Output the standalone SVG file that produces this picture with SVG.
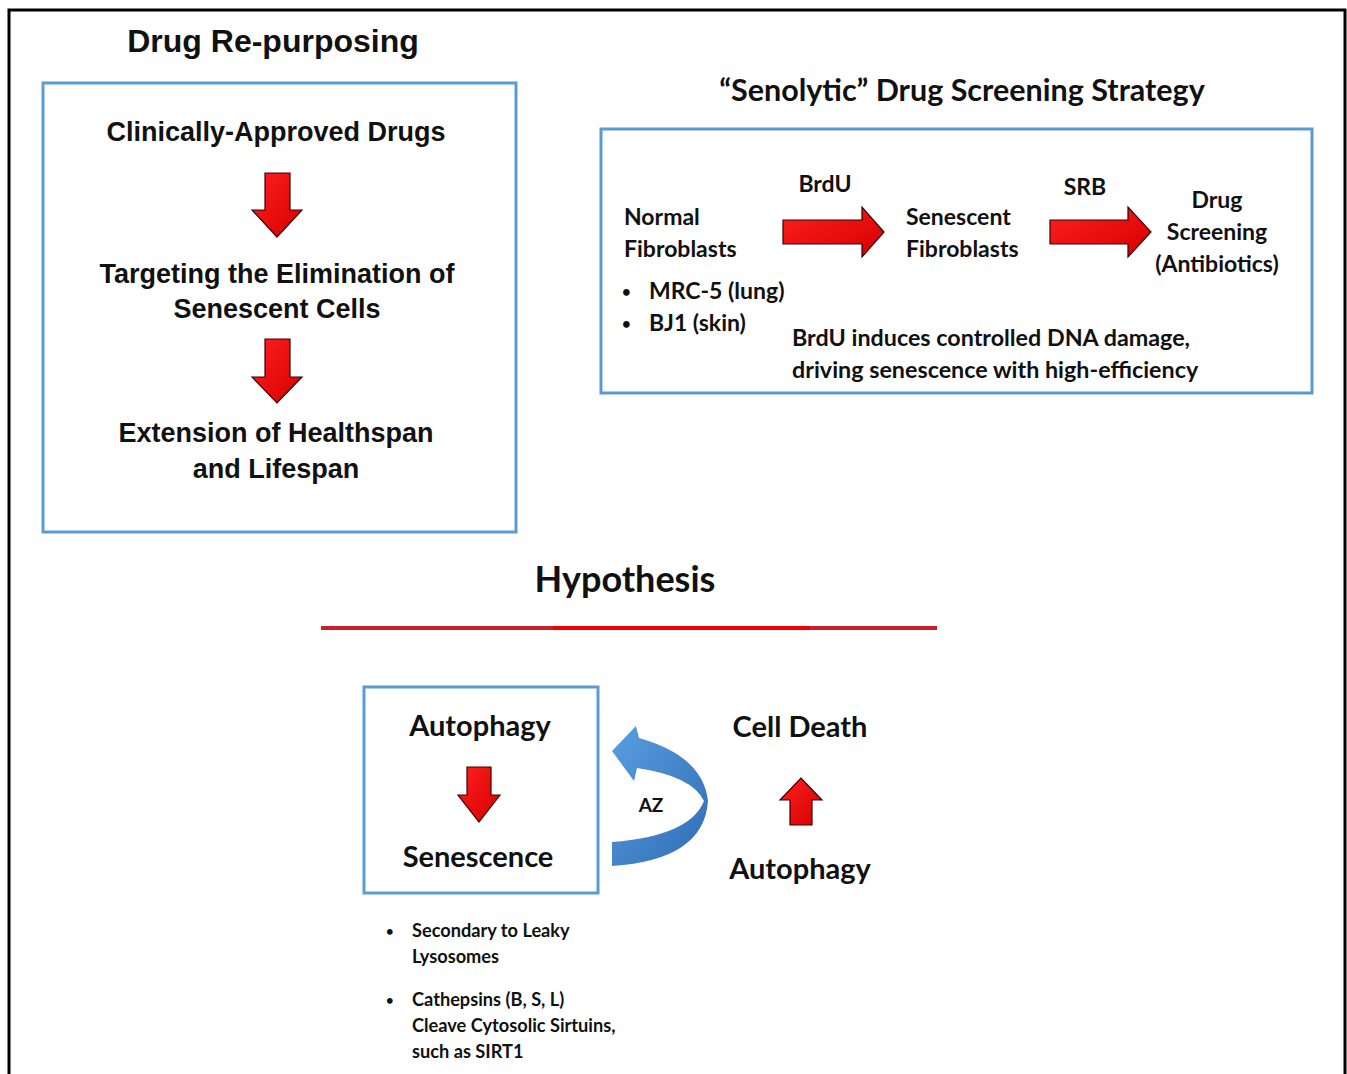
<svg xmlns="http://www.w3.org/2000/svg" width="1347" height="1074" viewBox="0 0 1347 1074">
<defs>
<style>
.ar{font-family:"Liberation Sans",Arial,sans-serif;font-weight:bold;fill:#111}
.ca{font-family:Lato,"Open Sans",sans-serif;font-weight:bold;fill:#111}
.box{fill:none;stroke:#5b9bd5;stroke-width:3}
.red{fill:url(#rg);stroke:#3a0000;stroke-width:1.2;stroke-linejoin:miter}
</style>
<linearGradient id="rg" x1="0" y1="0" x2="1" y2="1">
<stop offset="0" stop-color="#ff2020"/><stop offset="1" stop-color="#d40000"/>
</linearGradient>
<linearGradient id="bg" x1="0" y1="0" x2="1" y2="1">
<stop offset="0" stop-color="#5a9ee0"/><stop offset="1" stop-color="#2f6db5"/>
</linearGradient>
</defs>
<rect width="1347" height="1074" fill="#fff"/>
<rect x="9" y="10" width="1336" height="1100" fill="none" stroke="#000" stroke-width="3"/>

<g id="drug-repurposing">
<text class="ar" x="273" y="52" font-size="32" text-anchor="middle">Drug Re-purposing</text>
<rect class="box" x="43" y="83" width="473" height="449"/>
<text class="ar" x="276" y="141" font-size="27" text-anchor="middle">Clinically-Approved Drugs</text>
<text class="ar" x="277" y="283" font-size="27" text-anchor="middle">Targeting the Elimination of</text>
<text class="ar" x="277" y="318" font-size="27" text-anchor="middle">Senescent Cells</text>
<text class="ar" x="276" y="442" font-size="27" text-anchor="middle">Extension of Healthspan</text>
<text class="ar" x="276" y="478" font-size="27" text-anchor="middle">and Lifespan</text>
</g>

<g id="senolytic">
<text class="ca" x="962" y="101" font-size="30.5" text-anchor="middle">“Senolytic” Drug Screening Strategy</text>
<rect class="box" x="601" y="129" width="711" height="264"/>
<text class="ca" x="624" y="225" font-size="23">Normal</text>
<text class="ca" x="624" y="257" font-size="23">Fibroblasts</text>
<text class="ca" x="622" y="297" font-size="15">•</text>
<text class="ca" x="649" y="299" font-size="23">MRC-5 (lung)</text>
<text class="ca" x="622" y="329" font-size="15">•</text>
<text class="ca" x="649" y="331" font-size="23">BJ1 (skin)</text>
<text class="ca" x="825" y="192" font-size="23" text-anchor="middle">BrdU</text>
<text class="ca" x="906" y="225" font-size="23">Senescent</text>
<text class="ca" x="906" y="257" font-size="23">Fibroblasts</text>
<text class="ca" x="1085" y="195" font-size="23" text-anchor="middle">SRB</text>
<text class="ca" x="1217" y="208" font-size="23" text-anchor="middle">Drug</text>
<text class="ca" x="1217" y="240" font-size="23" text-anchor="middle">Screening</text>
<text class="ca" x="1217" y="272" font-size="23" text-anchor="middle">(Antibiotics)</text>
<text class="ca" x="792" y="346" font-size="23.3">BrdU induces controlled DNA damage,</text>
<text class="ca" x="792" y="378" font-size="23.3">driving senescence with high-efficiency</text>
</g>

<g id="hypothesis">
<text class="ca" x="625" y="592" font-size="36" text-anchor="middle">Hypothesis</text>
<line x1="321" y1="628" x2="553" y2="628" stroke="#c8202a" stroke-width="4"/>
<line x1="553" y1="628" x2="810" y2="628" stroke="#f00000" stroke-width="4"/>
<line x1="810" y1="628" x2="937" y2="628" stroke="#c8202a" stroke-width="4"/>
</g>

<g id="autophagy-senescence">
<rect class="box" x="364" y="687" width="234" height="206"/>
<text class="ca" x="480" y="736" font-size="29" text-anchor="middle">Autophagy</text>
<text class="ca" x="478" y="867" font-size="29" text-anchor="middle">Senescence</text>
</g>

<g id="cell-death">
<text class="ca" x="800" y="737" font-size="29" text-anchor="middle">Cell Death</text>
<text class="ca" x="800" y="879" font-size="29" text-anchor="middle">Autophagy</text>
</g>

<g id="notes">
<text class="ca" x="386" y="936" font-size="13">•</text>
<text class="ca" x="412" y="937" font-size="18.2">Secondary to Leaky</text>
<text class="ca" x="412" y="963" font-size="18.2">Lysosomes</text>
<text class="ca" x="386" y="1005" font-size="13">•</text>
<text class="ca" x="412" y="1006" font-size="18.2">Cathepsins (B, S, L)</text>
<text class="ca" x="412" y="1032" font-size="18.2">Cleave Cytosolic Sirtuins,</text>
<text class="ca" x="412" y="1058" font-size="18.2">such as SIRT1</text>
</g>

<g id="connectors">
<polygon class="red" points="265,173 290,173 290,210 302,210 277,237 252,210 265,210"/>
<polygon class="red" points="265,339 290,339 290,377 302,377 277,403 252,377 265,377"/>
<polygon class="red" points="783,220 862,220 862,207 884,232 862,257 862,244 783,244"/>
<polygon class="red" points="1050,220 1128,220 1128,207 1151,232 1128,257 1128,244 1050,244"/>
<polygon class="red" points="467,767 491,767 491,795 500,795 479,822 458,795 467,795"/>
<polygon class="red" points="790,825 812,825 812,800 822,800 801,778 780,800 790,800"/>
<path d="M612 842 Q690 836 704 801 Q692 776 637 768 L634 781 L612 751 L636 726 L639 738 Q703 756 708 801 Q704 860 612 866 Z" fill="url(#bg)"/>
<text class="ca" x="651" y="812" font-size="19" text-anchor="middle">AZ</text>
</g>
</svg>
